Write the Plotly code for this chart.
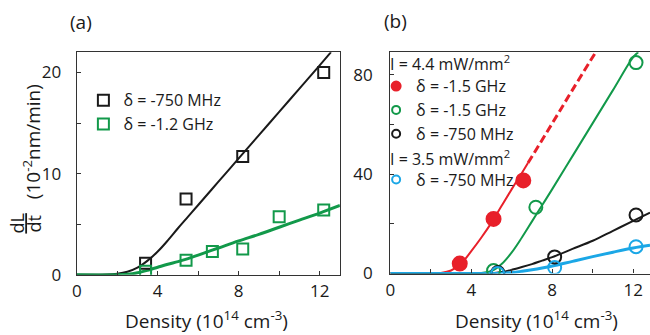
import plotly.graph_objects as go

FONT = "Open Sans"
BLACK = "#1a1a1a"
GREEN = "#12994a"
RED = "#e8202a"
CYAN = "#1ba7e6"
AXIS = "#333333"

# ---------------- Panel (a) data ----------------
a_black_x = [3.4, 5.4, 8.2, 12.2]
a_black_y = [1.15, 7.5, 11.7, 20.0]
a_green_x = [3.4, 5.4, 6.7, 8.2, 10.0, 12.2]
a_green_y = [0.35, 1.45, 2.3, 2.55, 5.75, 6.4]

a_fit_black_x = [0, 1, 1.5, 2, 2.5, 3, 3.5, 4, 4.5, 5, 5.5, 6, 7, 8, 9, 10, 11, 12, 12.56]
a_fit_black_y = [0, 0, 0.02, 0.1, 0.3, 0.7, 1.4, 2.3, 3.4, 4.6, 5.75, 6.9, 9.2, 11.5, 13.8, 16.1, 18.4, 20.7, 22.0]
a_fit_green_x = [0, 2.0, 2.5, 3, 3.5, 4, 4.5, 5, 5.5, 6, 7, 8, 9, 10, 11, 12, 13]
a_fit_green_y = [0, 0, 0.05, 0.2, 0.45, 0.75, 1.05, 1.3, 1.6, 1.95, 2.65, 3.35, 4.0, 4.7, 5.4, 6.1, 6.85]

# ---------------- Panel (b) data ----------------
b_red_x = [3.43, 5.1, 6.57]
b_red_y = [4.0, 22.0, 37.5]
b_green_x = [5.1, 7.19, 12.14]
b_green_y = [1.2, 26.7, 85.0]
b_black_x = [5.31, 8.12, 12.14]
b_black_y = [0.4, 6.7, 23.6]
b_cyan_x = [5.3, 8.12, 12.14]
b_cyan_y = [0.0, 2.4, 10.8]

b_fit_red_x = [0, 2.0, 2.5, 3, 3.5, 4, 4.5, 5, 5.5, 6, 6.5, 6.8]
b_fit_red_y = [0, 0, 0.2, 1.2, 4.0, 9.0, 14.5, 20.5, 27.3, 34.0, 40.5, 44.5]
b_ext_red_x = [6.8, 8, 9, 10.15]
b_ext_red_y = [44.5, 60.5, 74.0, 89.2]
b_fit_green_x = [0, 4.0, 4.5, 5, 5.5, 6, 6.5, 7, 7.5, 8, 9, 10, 11, 12, 12.25]
b_fit_green_y = [0, 0, 0.2, 1.0, 3.8, 8.5, 14.5, 21.0, 27.5, 34.0, 47.3, 60.6, 73.9, 87.2, 89.2]
b_fit_black_x = [0, 4.5, 5, 5.5, 6, 6.5, 7, 7.5, 8, 9, 10, 11, 12, 12.83]
b_fit_black_y = [0, 0, 0.1, 0.6, 1.5, 2.6, 3.8, 5.2, 6.6, 9.9, 13.2, 17.2, 21.2, 24.5]
b_fit_cyan_x = [0, 5.0, 5.5, 6, 6.5, 7, 7.5, 8, 9, 10, 11, 12, 12.83]
b_fit_cyan_y = [0, 0, 0.1, 0.4, 0.9, 1.5, 2.2, 3.0, 4.9, 6.8, 8.6, 10.3, 11.4]

# tick values
x_ticks = [0, 4, 8, 12]
x_minor = [2, 6, 10]
a_y_ticks = [0, 10, 20]
a_y_minor = [5, 15]
b_y_ticks = [0, 40, 80]
b_y_minor = [20, 60]

fig = go.Figure()


def line(x, y, color, width, ax, dash="solid"):
    fig.add_trace(go.Scatter(x=x, y=y, mode="lines",
                             line=dict(color=color, width=width, shape="spline", dash=dash),
                             xaxis=ax[0], yaxis=ax[1], showlegend=False, hoverinfo="skip"))


def pts(x, y, color, symbol, size, ax, lw=2):
    fig.add_trace(go.Scatter(x=x, y=y, mode="markers",
                             marker=dict(symbol=symbol, size=size, color=color, line=dict(color=color, width=lw)),
                             xaxis=ax[0], yaxis=ax[1], showlegend=False))


def leg(name, color, symbol, size, legend, group=None, lw=2):
    kw = {}
    if group:
        kw["legendgroup"] = group
    fig.add_trace(go.Scatter(x=[None], y=[None], mode="markers", name=name, legend=legend,
                             marker=dict(symbol=symbol, size=size, color=color, line=dict(color=color, width=lw)),
                             xaxis="x" if legend == "legend" else "x2",
                             yaxis="y" if legend == "legend" else "y2", **kw))


A = ("x", "y")
B = ("x2", "y2")

line(a_fit_black_x, a_fit_black_y, BLACK, 2, A)
line(a_fit_green_x, a_fit_green_y, GREEN, 3, A)
pts(a_black_x, a_black_y, BLACK, "square-open", 11, A)
pts(a_green_x, a_green_y, GREEN, "square-open", 11, A)
leg("δ = -750 MHz", BLACK, "square-open", 11, "legend")
leg("δ = -1.2 GHz", GREEN, "square-open", 11, "legend")

line(b_fit_red_x, b_fit_red_y, RED, 2, B)
line(b_ext_red_x, b_ext_red_y, RED, 3, B, dash="8px,4px")
line(b_fit_green_x, b_fit_green_y, GREEN, 2, B)
line(b_fit_black_x, b_fit_black_y, BLACK, 2, B)
line(b_fit_cyan_x, b_fit_cyan_y, CYAN, 3, B)
pts(b_red_x, b_red_y, RED, "circle", 14, B)
pts(b_green_x, b_green_y, GREEN, "circle-open", 13, B)
pts(b_black_x, b_black_y, BLACK, "circle-open", 13, B)
pts(b_cyan_x, b_cyan_y, CYAN, "circle-open", 13, B)
leg("δ = -1.5 GHz", RED, "circle", 9, "legend2", "g1")
leg("δ = -1.5 GHz", GREEN, "circle-open", 8, "legend2", "g1")
leg("δ = -750 MHz", BLACK, "circle-open", 8, "legend2", "g1")
leg("δ = -750 MHz", CYAN, "circle-open", 8, "legend2", "g2")

tickfont = dict(family=FONT, size=17, color=BLACK)
common_x = dict(showgrid=False, zeroline=False, showline=True, linecolor=AXIS, linewidth=1.3, mirror=True,
                ticks="inside", ticklen=4, tickcolor=AXIS, tickfont=tickfont, tickvals=x_ticks,
                ticklabelstandoff=1,
                minor=dict(tickvals=x_minor, ticks="inside", ticklen=4, tickcolor=AXIS))

H = 347  # page is rendered taller than the photographed frame

fig.update_layout(
    width=650, height=H, autosize=False, margin=dict(l=0, r=0, t=0, b=0),
    paper_bgcolor="white", plot_bgcolor="white",
    font=dict(family=FONT, color=BLACK),
    xaxis=dict(domain=[72.3 / 650, 337.5 / 650], range=[0, 13], anchor="y", **common_x),
    yaxis=dict(domain=[1 - 274 / 335, 1 - 52 / 335], range=[0, 22], anchor="x",
               showgrid=False, zeroline=False, showline=True, linecolor=AXIS, linewidth=1.3, mirror=True,
               ticks="inside", ticklen=4, tickcolor=AXIS, tickfont=tickfont, tickvals=a_y_ticks,
               ticklabelstandoff=11,
               minor=dict(tickvals=a_y_minor, ticks="inside", ticklen=4, tickcolor=AXIS)),
    xaxis2=dict(domain=[388.3 / 650, 1.0], range=[0, 12.83], anchor="y2", **common_x),
    yaxis2=dict(domain=[1 - 272.7 / 335, 1 - 52 / 335], range=[0, 89.2], anchor="x2",
                showgrid=False, zeroline=False, showline=True, linecolor=AXIS, linewidth=1.3, mirror=False,
                ticks="inside", ticklen=4, tickcolor=AXIS, tickfont=tickfont, tickvals=b_y_ticks,
                ticklabelstandoff=13,
                minor=dict(tickvals=b_y_minor, ticks="inside", ticklen=4, tickcolor=AXIS)),
    legend=dict(x=79 / 650, y=1 - 83 / 335, xanchor="left", yanchor="top", bgcolor="rgba(0,0,0,0)",
                font=dict(family=FONT, size=16, color=BLACK), tracegroupgap=0, itemwidth=30),
    legend2=dict(x=374 / 650, y=1 - 69 / 335, xanchor="left", yanchor="top", bgcolor="rgba(0,0,0,0)",
                 font=dict(family=FONT, size=16, color=BLACK), tracegroupgap=22, itemwidth=30),
    annotations=[
        dict(text="(a)", x=63 / 650, y=1 - 22 / 335, xref="paper", yref="paper", xanchor="left", yanchor="middle",
             showarrow=False, font=dict(family=FONT, size=19, color=BLACK)),
        dict(text="(b)", x=380 / 650, y=1 - 21 / 335, xref="paper", yref="paper", xanchor="left", yanchor="middle",
             showarrow=False, font=dict(family=FONT, size=19, color=BLACK)),
        dict(text="I = 4.4 mW/mm<sup>2</sup>", x=386 / 650, y=1 - 63 / 335, xref="paper", yref="paper",
             xanchor="left", yanchor="middle", showarrow=False, font=dict(family=FONT, size=16, color=BLACK)),
        dict(text="I = 3.5 mW/mm<sup>2</sup>", x=386 / 650, y=1 - 158 / 335, xref="paper", yref="paper",
             xanchor="left", yanchor="middle", showarrow=False, font=dict(family=FONT, size=16, color=BLACK)),
        dict(text="Density (10<sup>14</sup> cm<sup>-3</sup>)", x=203 / 650, y=1 - 319 / 335, xref="paper",
             yref="paper", xanchor="center", yanchor="middle", showarrow=False,
             font=dict(family=FONT, size=19, color=BLACK)),
        dict(text="Density (10<sup>14</sup> cm<sup>-3</sup>)", x=536 / 650, y=1 - 319 / 335, xref="paper",
             yref="paper", xanchor="center", yanchor="middle", showarrow=False,
             font=dict(family=FONT, size=19, color=BLACK)),
        dict(text="<u>dL</u>", x=12 / 650, y=1 - 223 / 335, xref="paper", yref="paper", textangle=-90,
             xanchor="center", yanchor="middle", showarrow=False, font=dict(family=FONT, size=18, color=BLACK)),
        dict(text="dt", x=29 / 650, y=1 - 223 / 335, xref="paper", yref="paper", textangle=-90,
             xanchor="center", yanchor="middle", showarrow=False, font=dict(family=FONT, size=18, color=BLACK)),
        dict(text="(10<sup>-2</sup>nm/min)", x=28 / 650, y=1 - 141 / 335, xref="paper", yref="paper",
             textangle=-90, xanchor="center", yanchor="middle", showarrow=False,
             font=dict(family=FONT, size=19, color=BLACK)),
    ],
)

post = ("document.documentElement.style.margin='0';document.documentElement.style.overflow='hidden';"
        "document.body.style.margin='0';document.body.style.overflow='hidden';"
        "var g=document.getElementById('{plot_id}');g.style.position='fixed';g.style.left='0';g.style.top='0';")
fig.write_html("out.html", config={"displayModeBar": False}, post_script=post)
